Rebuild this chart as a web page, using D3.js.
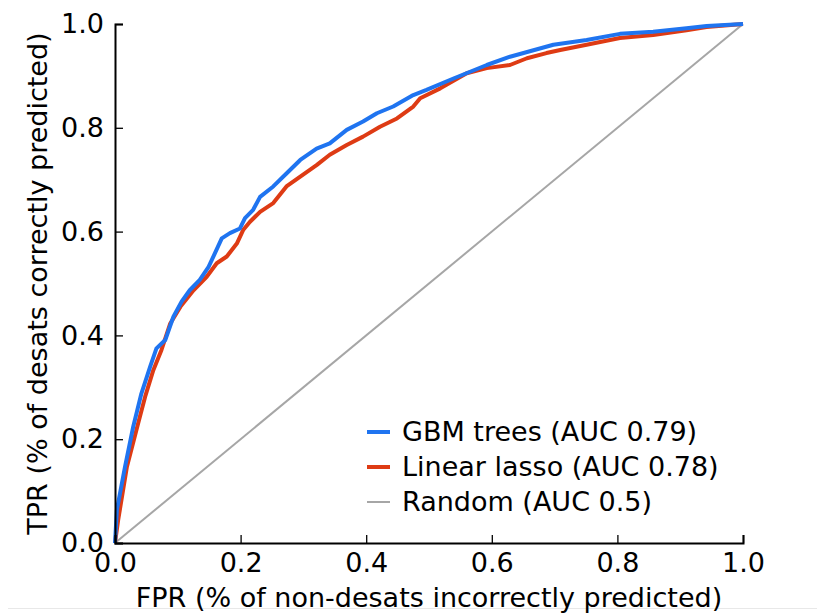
<!DOCTYPE html>
<html>
<head>
<meta charset="utf-8">
<script src="https://cdn.jsdelivr.net/npm/d3@7"></script>
<style>
  body { margin: 0; background: #fff; }
  svg text { font-family: "DejaVu Sans", sans-serif; fill: #000; }
</style>
</head>
<body>
<div id="chart"></div>
<script>
// ROC points, [FPR, TPR]
var gbmPoints = [
  [0, 0], [0.003, 0.064], [0.016, 0.147], [0.029, 0.224], [0.042, 0.288],
  [0.056, 0.340], [0.066, 0.375], [0.080, 0.391], [0.093, 0.436], [0.106, 0.465],
  [0.119, 0.487], [0.135, 0.507], [0.149, 0.532], [0.159, 0.558], [0.170, 0.587],
  [0.183, 0.597], [0.199, 0.606], [0.207, 0.626], [0.220, 0.642], [0.231, 0.667],
  [0.252, 0.687], [0.273, 0.712], [0.295, 0.738], [0.321, 0.760], [0.342, 0.770],
  [0.369, 0.796], [0.395, 0.812], [0.417, 0.828], [0.443, 0.841], [0.475, 0.863],
  [0.496, 0.873], [0.539, 0.895], [0.592, 0.921], [0.629, 0.937], [0.698, 0.960],
  [0.751, 0.969], [0.804, 0.981], [0.857, 0.985], [0.910, 0.992], [0.942, 0.996],
  [1, 1]
];
var lassoPoints = [
  [0, 0], [0.005, 0.044], [0.019, 0.147], [0.037, 0.231], [0.048, 0.282],
  [0.061, 0.333], [0.074, 0.372], [0.088, 0.423], [0.104, 0.455], [0.125, 0.487],
  [0.146, 0.513], [0.162, 0.539], [0.178, 0.552], [0.194, 0.577], [0.204, 0.603],
  [0.215, 0.619], [0.231, 0.638], [0.252, 0.655], [0.273, 0.687], [0.295, 0.706],
  [0.321, 0.728], [0.342, 0.748], [0.369, 0.767], [0.395, 0.783], [0.422, 0.802],
  [0.449, 0.818], [0.475, 0.841], [0.486, 0.857], [0.518, 0.876], [0.560, 0.905],
  [0.592, 0.915], [0.629, 0.921], [0.656, 0.934], [0.687, 0.944], [0.709, 0.950],
  [0.751, 0.960], [0.804, 0.973], [0.857, 0.979], [0.910, 0.988], [0.942, 0.994],
  [1, 1]
];
var randomPoints = [[0, 0], [1, 1]];

var seriesNames = ["GBM trees (AUC 0.79)", "Linear lasso (AUC 0.78)", "Random (AUC 0.5)"];
var tickValues = [0, 0.2, 0.4, 0.6, 0.8, 1.0];

var width = 817, height = 614;
var plotLeft = 115, plotRight = 743, plotTop = 24, plotBottom = 543;

var svg = d3.select("#chart").append("svg")
  .attr("width", width)
  .attr("height", height);

var x = d3.scaleLinear().domain([0, 1]).range([plotLeft, plotRight]);
var y = d3.scaleLinear().domain([0, 1]).range([plotBottom, plotTop]);

// faint page rule under the figure
svg.append("line")
  .attr("x1", 8).attr("x2", width)
  .attr("y1", 608.5).attr("y2", 608.5)
  .attr("stroke", "#e8e8e8").attr("stroke-width", 1);

var series = [
  {name: seriesNames[0], values: gbmPoints, color: "#1f74f0", width: 4},
  {name: seriesNames[1], values: lassoPoints, color: "#de3b14", width: 4},
  {name: seriesNames[2], values: randomPoints, color: "#a6a6a6", width: 2}
];

var line = d3.line()
  .x(function (d) { return x(d[0]); })
  .y(function (d) { return y(d[1]); });

// draw random first, then lasso, then gbm on top
[series[2], series[1], series[0]].forEach(function (s) {
  svg.append("path")
    .datum(s.values)
    .attr("fill", "none")
    .attr("stroke", s.color)
    .attr("stroke-width", s.width)
    .attr("stroke-linejoin", "round")
    .attr("d", line);
});

// axes, ticks pointing inward
var xAxis = svg.append("g")
  .attr("transform", "translate(0," + plotBottom + ")")
  .call(d3.axisBottom(x).tickValues(tickValues).tickSize(-8)
    .tickFormat(d3.format(".1f")));
var yAxis = svg.append("g")
  .attr("transform", "translate(" + plotLeft + ",0)")
  .call(d3.axisLeft(y).tickValues(tickValues).tickSize(-8).tickPadding(12)
    .tickFormat(d3.format(".1f")));

[xAxis, yAxis].forEach(function (g) {
  g.select(".domain").attr("stroke", "#000").attr("stroke-width", 2);
  g.selectAll(".tick line").attr("stroke", "#000").attr("stroke-width", 1.3);
  g.selectAll(".tick text")
    .style("font-family", "DejaVu Sans")
    .style("font-size", "27px");
});
yAxis.selectAll(".tick text").attr("x", -11);
xAxis.selectAll(".tick text").attr("y", 10).attr("dy", "0.71em");

// axis labels
svg.append("text")
  .attr("x", (plotLeft + plotRight) / 2)
  .attr("y", 607)
  .attr("text-anchor", "middle")
  .style("font-size", "27px")
  .text("FPR (% of non-desats incorrectly predicted)");

svg.append("text")
  .attr("transform", "translate(47," + (plotTop + plotBottom) / 2 + ") rotate(-90)")
  .attr("text-anchor", "middle")
  .style("font-size", "27px")
  .text("TPR (% of desats correctly predicted)");

// legend
var legend = svg.append("g").attr("transform", "translate(367,432)");
series.forEach(function (s, i) {
  var row = legend.append("g").attr("transform", "translate(0," + i * 35 + ")");
  row.append("line")
    .attr("x1", 0).attr("x2", 23)
    .attr("stroke", s.color)
    .attr("stroke-width", s.width);
  row.append("text")
    .attr("x", 35)
    .attr("dy", "0.35em")
    .style("font-size", "27px")
    .text(s.name);
});
</script>
</body>
</html>
